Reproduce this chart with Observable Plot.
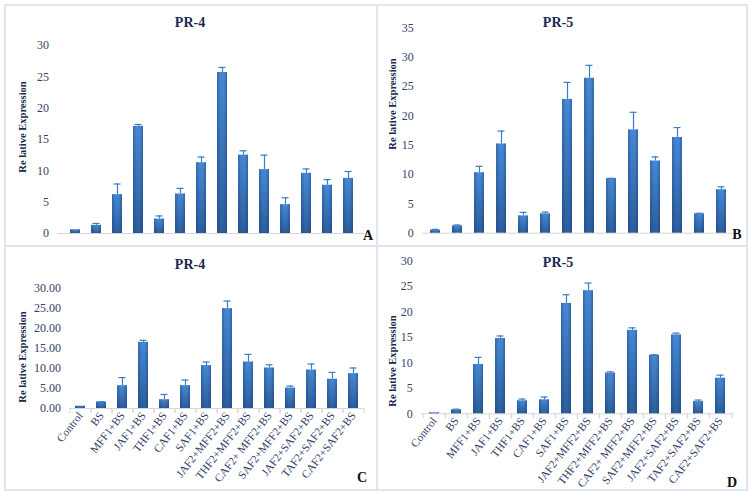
<!DOCTYPE html>
<html>
<head>
<meta charset="utf-8">
<script src="https://cdn.jsdelivr.net/npm/d3@7"></script>
<script src="https://cdn.jsdelivr.net/npm/@observablehq/plot@0.6"></script>
<style>
  html, body { margin: 0; padding: 0; background: #fff; }
  #page { position: relative; width: 750px; height: 493px; background: #fff; overflow: hidden; font-family: "Liberation Serif", "DejaVu Serif", serif; }
  .line { position: absolute; background: #dfe6ef; }
  .panel { position: absolute; }
  .panel svg { position: absolute; left: 0; top: 0; overflow: visible; }
  .title { position: absolute; font-weight: bold; font-size: 14px; color: #1b2a4e; transform: translate(-50%, -50%); white-space: nowrap; }
  .ylab { position: absolute; font-weight: bold; font-size: 10.5px; color: #1b2a4e; transform: translate(-50%, -50%) rotate(-90deg); white-space: nowrap; }
  .letter { position: absolute; font-weight: bold; font-size: 14px; color: #111; transform: translate(-50%, -50%); }
</style>
</head>
<body>
<div id="page">
  <div class="line" style="left:4px; top:4px; width:744px; height:2px;"></div>
  <div class="line" style="left:4px; top:489px; width:744px; height:2px;"></div>
  <div class="line" style="left:4px; top:4px; width:2px; height:487px;"></div>
  <div class="line" style="left:746px; top:4px; width:2px; height:487px;"></div>
  <div class="line" style="left:376px; top:4px; width:2px; height:487px;"></div>
  <div class="line" style="left:4px; top:245px; width:744px; height:2px;"></div>
</div>
<script>
const categories = ["Control", "BS", "MFF1+BS", "JAF1+BS", "THF1+BS", "CAF1+BS", "SAF1+BS",
  "JAF2+MFF2+BS", "THF2+MFF2+BS", "CAF2+ MFF2+BS", "SAF2+MFF2+BS", "JAF2+SAF2+BS",
  "TAF2+SAF2+BS", "CAF2+SAF2+BS"];

// Panel A: PR-4
const pr4A = [0.6, 1.3, 6.2, 17.1, 2.3, 6.3, 11.3, 25.7, 12.5, 10.2, 4.6, 9.6, 7.7, 8.8];
const pr4AErr = [0, 0.3, 1.7, 0.3, 0.5, 0.9, 0.9, 0.8, 0.7, 2.3, 1.1, 0.7, 0.9, 1.1];
// Panel B: PR-5
const pr5B = [0.5, 1.25, 10.3, 15.2, 2.95, 3.3, 22.8, 26.4, 9.3, 17.6, 12.3, 16.3, 3.3, 7.4];
const pr5BErr = [0.15, 0.15, 1.1, 2.2, 0.6, 0.3, 2.9, 2.2, 0.05, 3.0, 0.7, 1.7, 0.1, 0.5];
// Panel C: PR-4
const pr4C = [0.58, 1.6, 5.7, 16.5, 2.2, 5.7, 10.7, 24.9, 11.6, 10.1, 5.1, 9.6, 7.3, 8.7];
const pr4CErr = [0, 0.1, 2.0, 0.5, 1.3, 1.4, 0.9, 1.9, 1.9, 0.8, 0.5, 1.5, 1.7, 1.4];
// Panel D: PR-5
const pr5D = [0.2, 0.8, 9.7, 14.8, 2.55, 2.75, 21.7, 24.2, 8.0, 16.4, 11.5, 15.5, 2.4, 7.0];
const pr5DErr = [0, 0.1, 1.4, 0.5, 0.35, 0.55, 1.7, 1.5, 0.25, 0.5, 0.1, 0.35, 0.3, 0.6];

const yTicksA = [0, 5, 10, 15, 20, 25, 30];
const yTicksB = [0, 5, 10, 15, 20, 25, 30, 35];

const panels = [
  {id: "A", title: "PR-4", values: pr4A, err: pr4AErr, yMax: 30, ticks: yTicksA, fmt: d => String(d),
   left: 4, top: 4, W: 372, H: 242, mt: 41, mb: 13, ml: 53.4, mr: 11.7, labels: false,
   titleX: 190, titleY: 23, ylabX: 22, ylabY: 127, letterX: 368, letterY: 236},
  {id: "B", title: "PR-5", values: pr5B, err: pr5BErr, yMax: 35, ticks: yTicksB, fmt: d => String(d),
   left: 378, top: 4, W: 368, H: 242, mt: 23.3, mb: 13.3, ml: 44.2, mr: 12.2, labels: false,
   titleX: 558, titleY: 23, ylabX: 392, ylabY: 104, letterX: 737, letterY: 235},
  {id: "C", title: "PR-4", values: pr4C, err: pr4CErr, yMax: 30, ticks: yTicksA, fmt: d => d.toFixed(2),
   left: 4, top: 246, W: 372, H: 243, mt: 41.7, mb: 81, ml: 65.5, mr: 12.1, labels: true,
   titleX: 190, titleY: 265, ylabX: 22, ylabY: 357, letterX: 362, letterY: 478},
  {id: "D", title: "PR-5", values: pr5D, err: pr5DErr, yMax: 30, ticks: yTicksA, fmt: d => String(d),
   left: 378, top: 246, W: 368, H: 243, mt: 14.7, mb: 75.7, ml: 43.2, mr: 12.1, labels: true,
   titleX: 558, titleY: 263, ylabX: 392, ylabY: 361, letterX: 732, letterY: 483}
];

const page = document.getElementById("page");
const textColor = "#34436a";

for (const p of panels) {
  const data = categories.map((c, i) => ({cat: c, v: p.values[i], e: p.err[i]}));
  const errData = data.filter(d => d.e > 0);
  const step = (p.W - p.ml - p.mr) / categories.length;

  const marks = [
    Plot.ruleY([0], {stroke: "#d6d6d6", strokeWidth: 1}),
    Plot.barY(data, {x: "cat", y: "v", fill: "#3a73b8"}),
    Plot.ruleX(errData, {x: "cat", y1: "v", y2: d => d.v + d.e, stroke: "#3d7cc4", strokeWidth: 1.2}),
    Plot.tickY(errData, {x: "cat", y: d => d.v + d.e, stroke: "#3d7cc4", strokeWidth: 1.2, insetLeft: 1.5, insetRight: 1.5}),
    Plot.axisY({ticks: p.ticks, tickFormat: p.fmt, tickSize: 0, tickPadding: 9, label: null,
      fontSize: 12, fill: textColor, fontFamily: "Liberation Serif"})
  ];
  if (p.labels) {
    marks.push(Plot.axisX({tickSize: 0, tickRotate: -52, tickPadding: 5, label: null, fontSize: 11.3,
      fill: textColor, fontFamily: "Liberation Serif"}));
    marks.push(Plot.axisX({tickSize: 5, tickFormat: () => "", label: null, dx: -step / 2, stroke: "#d6d6d6"}));
    marks.push(Plot.axisX({tickSize: 5, tickFormat: () => "", label: null, dx: step / 2, stroke: "#d6d6d6"}));
  } else {
    marks.push(Plot.axisX({ticks: [], label: null}));
  }

  const svg = Plot.plot({
    width: p.W, height: p.H,
    marginTop: p.mt, marginBottom: p.mb, marginLeft: p.ml, marginRight: p.mr,
    style: {background: "transparent", fontFamily: "Liberation Serif", overflow: "visible"},
    x: {type: "band", domain: categories, paddingInner: 0.54, paddingOuter: 0.27, axis: null},
    y: {domain: [0, p.yMax], axis: null},
    marks
  });

  // vertical gradient for bars (Excel-like shading)
  const gid = "grad" + p.id;
  const ns = "http://www.w3.org/2000/svg";
  const defs = document.createElementNS(ns, "defs");
  const lg = document.createElementNS(ns, "linearGradient");
  lg.setAttribute("id", gid);
  lg.setAttribute("x1", "0"); lg.setAttribute("y1", "0");
  lg.setAttribute("x2", "0"); lg.setAttribute("y2", "1");
  [["0%", "#4688d4"], ["100%", "#2b5d9b"]].forEach(([o, c]) => {
    const s = document.createElementNS(ns, "stop");
    s.setAttribute("offset", o); s.setAttribute("stop-color", c);
    lg.appendChild(s);
  });
  const lg2 = document.createElementNS(ns, "linearGradient");
  lg2.setAttribute("id", gid + "h");
  lg2.setAttribute("x1", "0"); lg2.setAttribute("y1", "0");
  lg2.setAttribute("x2", "1"); lg2.setAttribute("y2", "0");
  [["0%", "rgba(20,50,100,0.35)"], ["35%", "rgba(20,50,100,0)"], ["70%", "rgba(20,50,100,0)"], ["100%", "rgba(20,50,100,0.4)"]].forEach(([o, c]) => {
    const s = document.createElementNS(ns, "stop");
    s.setAttribute("offset", o); s.setAttribute("stop-color", c);
    lg2.appendChild(s);
  });
  defs.appendChild(lg); defs.appendChild(lg2);
  svg.insertBefore(defs, svg.firstChild);
  const barGroup = svg.querySelector('g[aria-label="bar"]');
  if (barGroup) {
    barGroup.removeAttribute("fill");
    barGroup.querySelectorAll("rect").forEach(r => {
      r.setAttribute("fill", `url(#${gid})`);
      const o = r.cloneNode();
      o.setAttribute("fill", `url(#${gid}h)`);
      r.after(o);
    });
  }

  const div = document.createElement("div");
  div.className = "panel";
  div.style.left = p.left + "px";
  div.style.top = p.top + "px";
  div.style.width = p.W + "px";
  div.style.height = p.H + "px";
  div.appendChild(svg);
  page.appendChild(div);

  const t = document.createElement("div");
  t.className = "title"; t.textContent = p.title;
  t.style.left = p.titleX + "px"; t.style.top = p.titleY + "px";
  page.appendChild(t);

  const yl = document.createElement("div");
  yl.className = "ylab"; yl.textContent = "Re lative Expression";
  yl.style.left = p.ylabX + "px"; yl.style.top = p.ylabY + "px";
  page.appendChild(yl);

  const l = document.createElement("div");
  l.className = "letter"; l.textContent = p.id;
  l.style.left = p.letterX + "px"; l.style.top = p.letterY + "px";
  page.appendChild(l);
}
</script>
</body>
</html>
